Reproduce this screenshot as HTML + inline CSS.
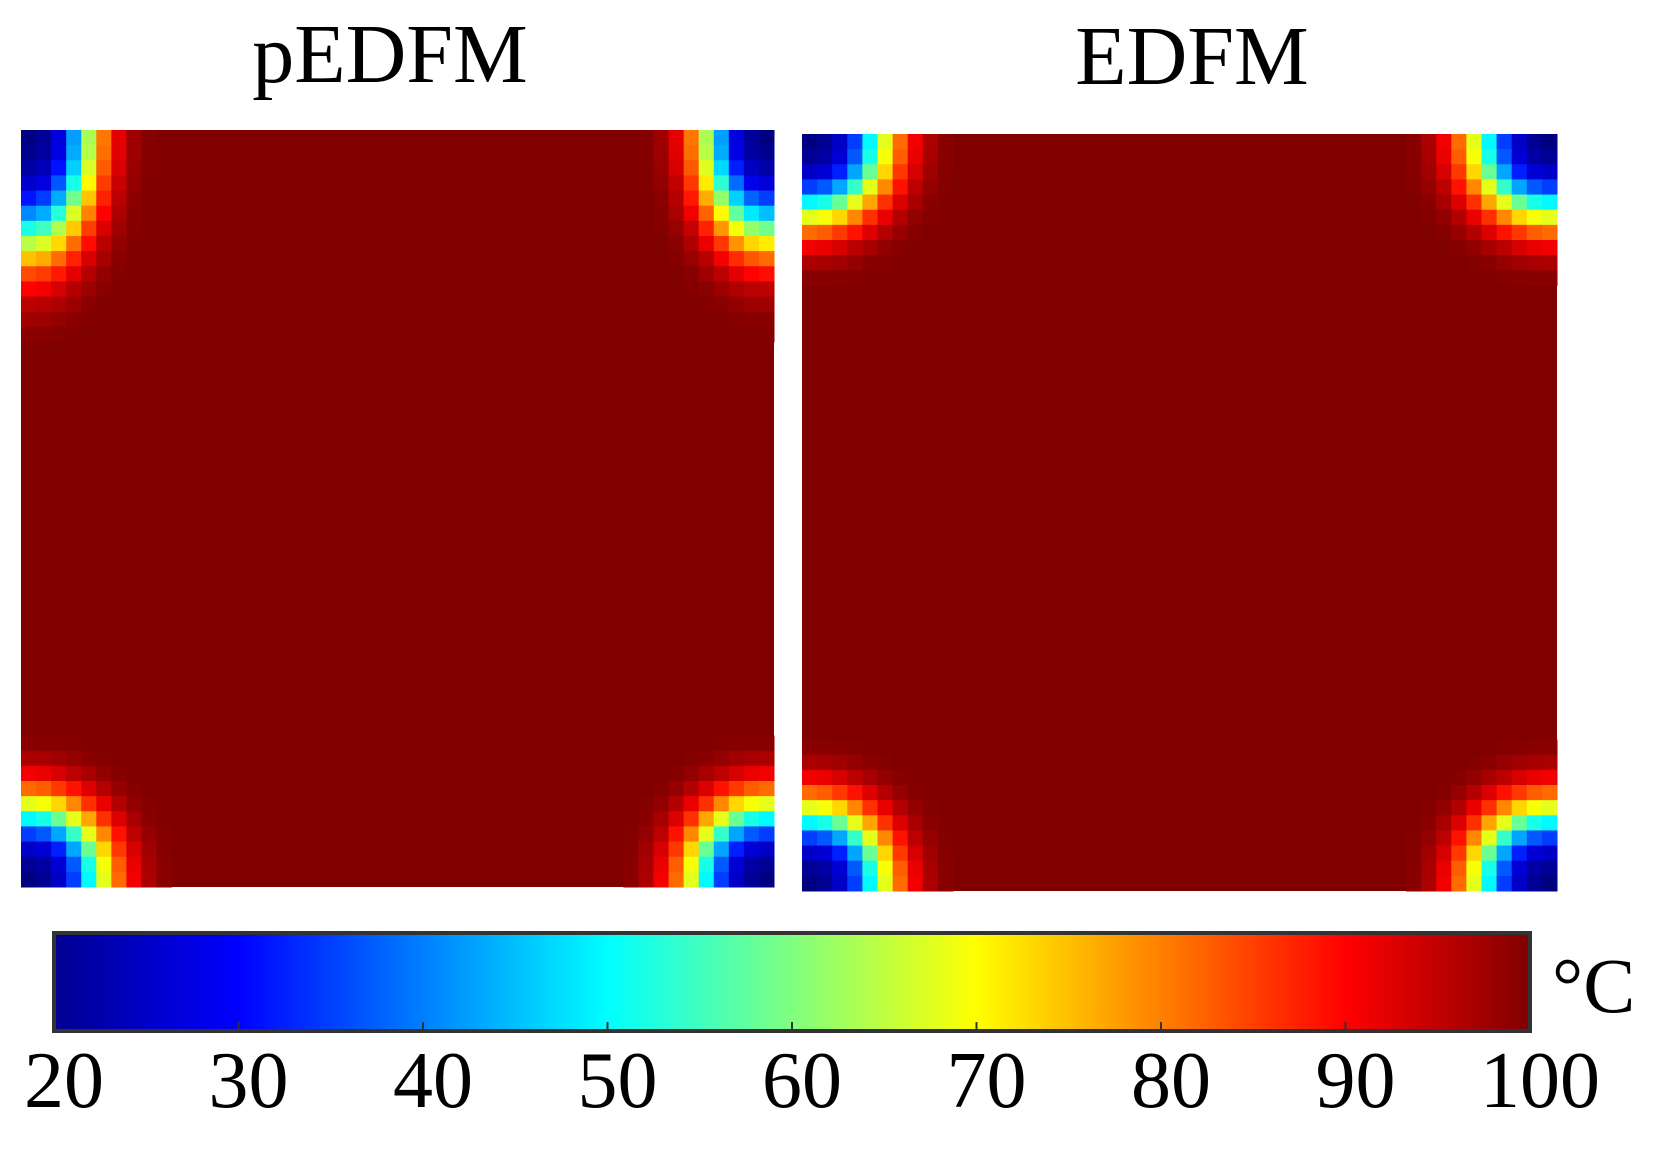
<!DOCTYPE html>
<html><head><meta charset="utf-8">
<style>
html,body{margin:0;padding:0;background:#fff;}
body{width:1662px;height:1144px;overflow:hidden;position:relative;font-family:"Liberation Serif",serif;}
</style></head>
<body>
<svg id="chart" width="1662" height="1144" viewBox="0 0 1662 1144" xmlns="http://www.w3.org/2000/svg">
<defs>
<linearGradient id="jet" x1="0" x2="1" y1="0" y2="0">
<stop offset="0" stop-color="#00008f"/>
<stop offset="0.125" stop-color="#0000ff"/>
<stop offset="0.375" stop-color="#00ffff"/>
<stop offset="0.625" stop-color="#ffff00"/>
<stop offset="0.875" stop-color="#ff0000"/>
<stop offset="1" stop-color="#800000"/>
</linearGradient>
</defs>
<text x="390" y="82" font-size="84" text-anchor="middle" font-family="Liberation Serif, serif">pEDFM</text>
<text x="1192" y="84" font-size="84" text-anchor="middle" font-family="Liberation Serif, serif">EDFM</text>
<g id="p1"></g>
<g id="p2"></g>
<rect x="54" y="933" width="1476" height="98" fill="url(#jet)" stroke="#333" stroke-width="4"/>
<g id="cb"></g>
<text x="1552" y="1012" font-size="78" font-family="Liberation Serif, serif">°C</text>
</svg>
<script>
// Data
const gridN = 50;
const radialDist = [0, 1, 2, 3, 4, 5, 6, 7, 8];
const radialTemp = [20, 22, 28, 45, 68, 85, 95, 99, 100];
// corner stretch (distance units per cell): TL, TR, BL, BR
const pedfmStretchX = [0.95, 0.95, 0.8, 0.8];
const pedfmStretchY = [0.55, 0.6, 0.8, 0.8];
const edfmStretchX = [0.8, 0.8, 0.8, 0.8];
const edfmStretchY = [0.8, 0.8, 0.8, 0.8];
const cbTicks = [20, 30, 40, 50, 60, 70, 80, 90, 100];
const tMin = 20, tMax = 100;

function jet(v){
  const t=(v-tMin)/(tMax-tMin);
  const f=(x)=>Math.max(0,Math.min(1,x));
  const r=f(Math.min(4*t-1.5,-4*t+4.5));
  const g=f(Math.min(4*t-0.5,-4*t+3.5));
  const b=f(Math.min(4*t+0.5,-4*t+2.5));
  return `rgb(${Math.round(r*255)},${Math.round(g*255)},${Math.round(b*255)})`;
}
function profile(d){
  if(d>=radialDist[radialDist.length-1]) return radialTemp[radialTemp.length-1];
  const i=Math.floor(d), fr=d-i;
  return radialTemp[i]+(radialTemp[i+1]-radialTemp[i])*fr;
}
function tempAt(i,j,sx,sy){
  const corners=[[0,0],[gridN-1,0],[0,gridN-1],[gridN-1,gridN-1]];
  let T=tMax;
  corners.forEach((c,k)=>{
    const dx=Math.abs(i-c[0])*sx[k], dy=Math.abs(j-c[1])*sy[k];
    T=Math.min(T,profile(Math.sqrt(dx*dx+dy*dy)));
  });
  return T;
}
const NS="http://www.w3.org/2000/svg";
function drawPanel(gid,x0,y0,w,h,sx,sy){
  const g=document.getElementById(gid);
  const cw=w/gridN, ch=h/gridN;
  const bg=document.createElementNS(NS,'rect');
  
  
  bg.setAttribute('x',x0);bg.setAttribute('y',y0);bg.setAttribute('width',w);bg.setAttribute('height',h);
  bg.setAttribute('fill',jet(tMax));
  g.appendChild(bg);
  for(let j=0;j<gridN;j++)for(let i=0;i<gridN;i++){
    const T=tempAt(i,j,sx,sy);
    if(T>=tMax) continue;
    const r=document.createElementNS(NS,'rect');
    
    
    r.setAttribute('x',(x0+i*cw).toFixed(2));
    r.setAttribute('y',(y0+j*ch).toFixed(2));
    r.setAttribute('width',(cw+0.5).toFixed(2));
    r.setAttribute('height',(ch+0.5).toFixed(2));
    r.setAttribute('fill',jet(T));
    g.appendChild(r);
  }
}
drawPanel('p1',21,130,753,757,pedfmStretchX,pedfmStretchY);
drawPanel('p2',802,134,755,757,edfmStretchX,edfmStretchY);

const cbX0=54, cbX1=1530;
const cbScale=v=>cbX0+(v-tMin)/(tMax-tMin)*(cbX1-cbX0);
const cb=document.getElementById('cb');
cbTicks.forEach(v=>{
  const x=cbScale(v);
  if(v>tMin && v<tMax){
    const l=document.createElementNS(NS,'line');
    
    
    l.setAttribute('x1',x);l.setAttribute('x2',x);l.setAttribute('y1',1031);l.setAttribute('y2',1022);
    l.setAttribute('stroke','#333');l.setAttribute('stroke-width','2');
    cb.appendChild(l);
  }
  const t=document.createElementNS(NS,'text');
  
  
  t.setAttribute('x',x+10);t.setAttribute('y',1107);
  t.setAttribute('font-size','80');t.setAttribute('text-anchor','middle');
  t.setAttribute('font-family','Liberation Serif, serif');
  t.textContent=v;
  cb.appendChild(t);
});
</script>
</body></html>
